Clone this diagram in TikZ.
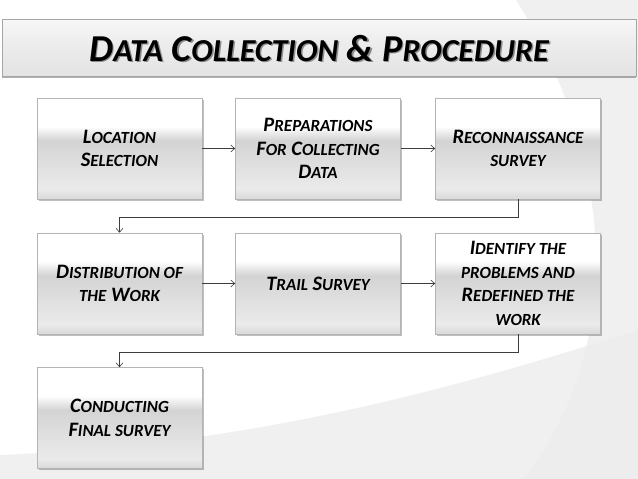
\documentclass[tikz,border=0pt]{standalone}
\usepackage{fontspec}
\setmainfont{Carlito}
\usetikzlibrary{arrows.meta,shadows}

\definecolor{bggray}{HTML}{ECECEC}
\definecolor{boxline}{HTML}{B4B4B4}
\definecolor{barline}{HTML}{A6A6A6}
\definecolor{linegray}{HTML}{3C3C3C}

% 箱のグラデーション
\pgfdeclareverticalshading{boxshade}{100bp}{color(0bp)=(black!15); color(25bp)=(black!15); color(30bp)=(black!8); color(54bp)=(black!17); color(61bp)=(white); color(100bp)=(white)}
\pgfdeclareverticalshading{barshade}{100bp}{color(0bp)=(black!11); color(25bp)=(black!11); color(55bp)=(black!7); color(75bp)=(black!3); color(100bp)=(black!3)}

% 小さい大文字
\newcommand\lc[1]{{\fontsize{17}{23.5}\selectfont #1}}
\newcommand\tlc[1]{{\fontsize{32}{38}\selectfont #1}}

\tikzset{
  box/.style={draw=boxline, line width=0.6pt, rectangle, shading=boxshade,
    minimum width=165pt, minimum height=101pt, align=center,
    font=\bfseries\itshape\fontsize{20.5}{23.5}\selectfont,
    drop shadow={shadow xshift=1.5pt, shadow yshift=-1.5pt, fill=black, opacity=0.25}},
  flow/.style={draw=linegray, line width=0.6pt, -{Straight Barb[length=4pt,width=7pt]}},
  titletext/.style={font=\bfseries\itshape\fontsize{38}{38}\selectfont, anchor=base}
}

\begin{document}
\begin{tikzpicture}[x=1pt, y=-1pt]
    \useasboundingbox (0,0) rectangle (638,479);

    % 背景
    \fill[bggray, opacity=0.8] (516,0) .. controls (600,130) and (640,330) .. (523,479) -- (638,479) -- (638,0) -- cycle;
    \fill[bggray, opacity=0.8] (0,455) .. controls (250,445) and (450,390) .. (638,330) -- (638,479) -- (0,479) -- cycle;

    % タイトル
    \node[draw=barline, line width=0.6pt, shading=barshade, minimum width=634pt, minimum height=57pt,
      drop shadow={shadow xshift=0pt, shadow yshift=-2pt, fill=black, opacity=0.3}] (bar) at (319,47.5) {};
    \node[titletext, text=black!45] (titleshadow) at (320.5,62.5) {D\tlc{ATA} C\tlc{OLLECTION} \& P\tlc{ROCEDURE}};
    \node[titletext] (title) at (319,61) {D\tlc{ATA} C\tlc{OLLECTION} \& P\tlc{ROCEDURE}};

    % ノードを描画
    \node[box] (A) at (119.5,148.5) {L\lc{OCATION}\\S\lc{ELECTION}};
    \node[box] (B) at (318,148.5) {P\lc{REPARATIONS}\\F\lc{OR} C\lc{OLLECTING}\\D\lc{ATA}};
    \node[box] (C) at (518,148.5) {R\lc{ECONNAISSANCE}\\\lc{SURVEY}};
    \node[box] (D) at (119.5,283.5) {D\lc{ISTRIBUTION OF}\\\lc{THE} W\lc{ORK}};
    \node[box] (E) at (318,283.5) {T\lc{RAIL} S\lc{URVEY}};
    \node[box] (F) at (518,283.5) {I\lc{DENTIFY THE}\\\lc{PROBLEMS AND}\\R\lc{EDEFINED THE}\\\lc{WORK}};
    \node[box] (G) at (119.5,418) {C\lc{ONDUCTING}\\F\lc{INAL SURVEY}};

    % エッジを描画
    \draw[flow] (A) -- (B);
    \draw[flow] (B) -- (C);
    \draw[flow] (C.south) -- ++(0,18) -| (D.north);
    \draw[flow] (D) -- (E);
    \draw[flow] (E) -- (F);
    \draw[flow] (F.south) -- ++(0,18) -| (G.north);
\end{tikzpicture}
\end{document}
